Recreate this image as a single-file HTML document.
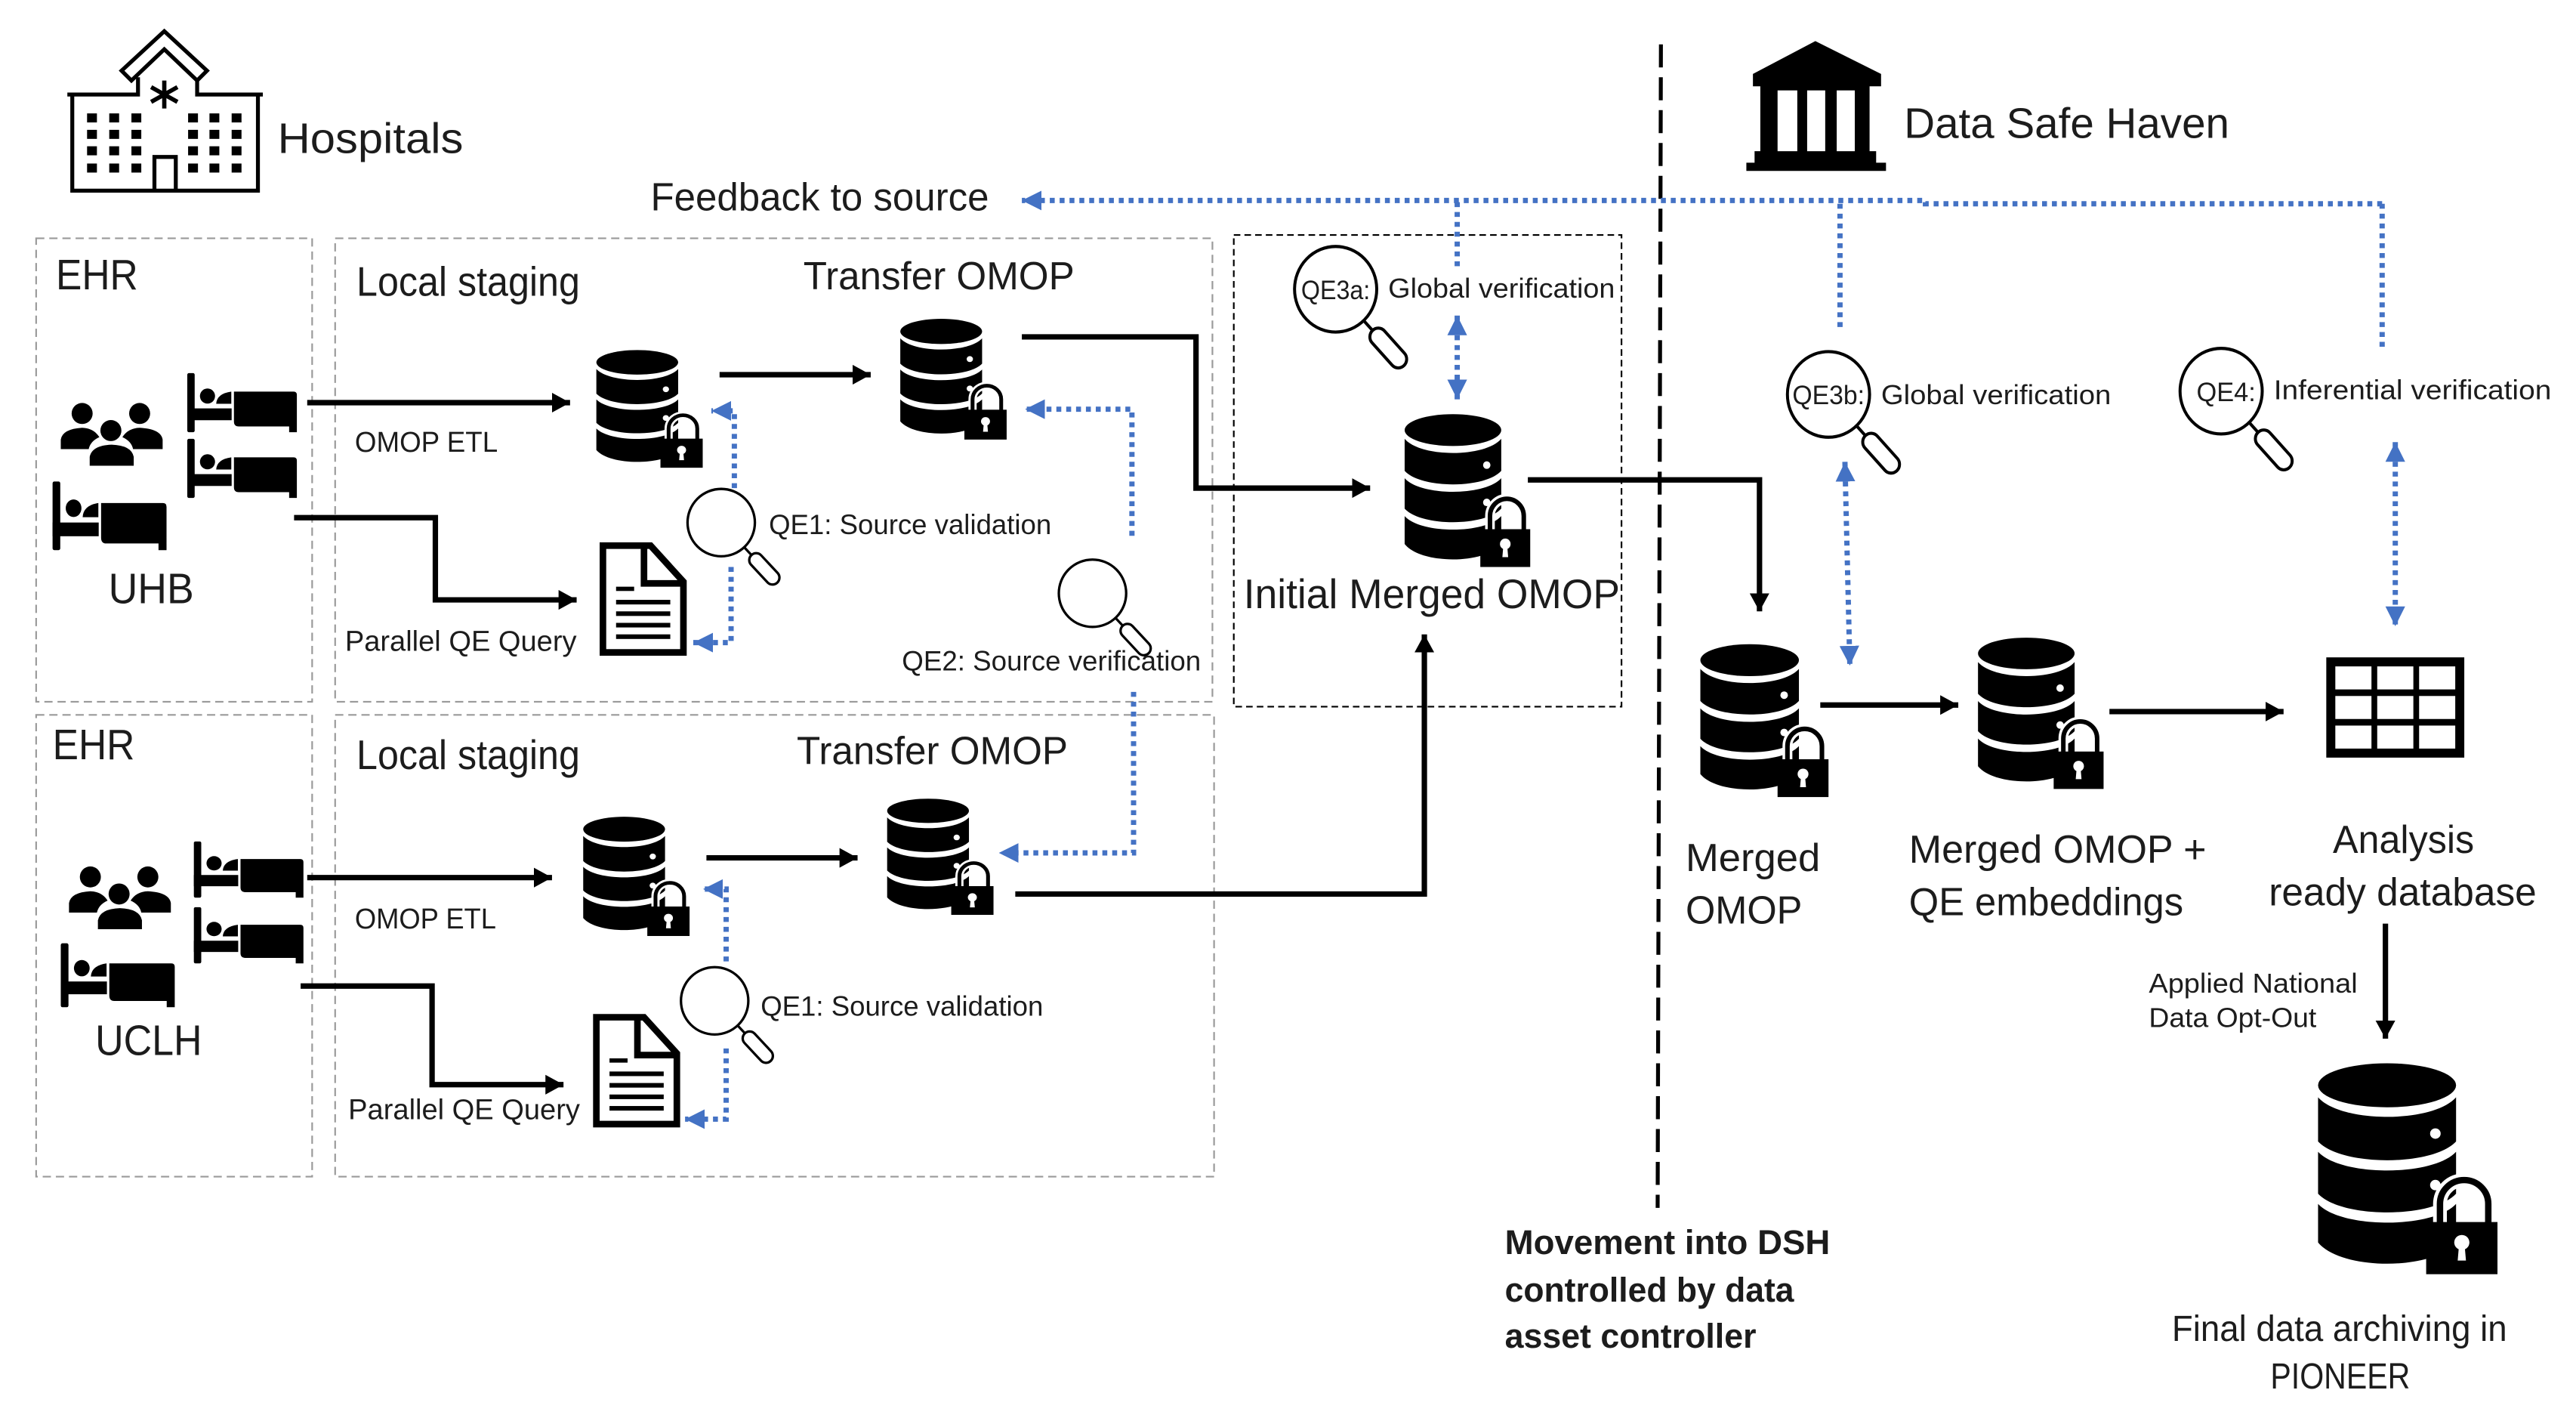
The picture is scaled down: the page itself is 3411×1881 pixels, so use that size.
<!DOCTYPE html>
<html><head><meta charset="utf-8"><style>
html,body{margin:0;padding:0;background:#fff}
svg{display:block}
text{font-family:"Liberation Sans",sans-serif;fill:#1c1c1c}
.k{fill:none;stroke:#000;stroke-width:3.3;marker-end:url(#ka)}
.b{fill:none;stroke:#4472c4;stroke-width:3.2;stroke-dasharray:3 3}
.g{fill:none;stroke:#9a9a9a;stroke-width:1;stroke-dasharray:5 3}
</style></head><body>
<svg xmlns="http://www.w3.org/2000/svg" width="3411" height="1881" viewBox="0 0 1568 864.66">
<defs>
<marker id="ka" markerUnits="userSpaceOnUse" markerWidth="13" markerHeight="13" refX="11" refY="6" orient="auto"><path d="M0,0L11,6L0,12Z" fill="#000"/></marker>
<marker id="ba" markerUnits="userSpaceOnUse" markerWidth="14" markerHeight="14" refX="12" refY="6" orient="auto-start-reverse"><path d="M0,0L12,6L0,12Z" fill="#4472c4"/></marker>
<g id="db">
<ellipse cx="30" cy="9.700" rx="30" ry="9.700"/>
<path d="M0,15C10,26.500 50,26.500 60,15V34.500C50,45.500 10,45.500 0,34.500Z"/>
<path d="M0,39C10,50 50,50 60,39V57.500C50,68.500 10,68.500 0,57.500Z"/>
<path d="M0,62C10,73 50,73 60,62V79C50,91.500 10,91.500 0,79Z"/>
<circle cx="51" cy="31" r="2.300" fill="#fff"/><circle cx="51" cy="53.700" r="2.300" fill="#fff"/>
<path d="M53,71V62a10.500,10.500 0 0 1 21,0V71" fill="none" stroke="#fff" stroke-width="6"/>
<path d="M53,71V62a10.500,10.500 0 0 1 21,0V71" fill="none" stroke="#000" stroke-width="2.800"/>
<rect x="47" y="70" width="31" height="23"/>
<circle cx="62.500" cy="79" r="3.300" fill="#fff"/><path d="M61.300,80H63.700L64.300,87H60.700Z" fill="#fff"/>
</g>
<g id="mag">
<circle cx="0" cy="0" r="20.500" fill="#fff" stroke="#000" stroke-width="1.500"/>
<g transform="rotate(47)"><path d="M20.500,0H27" stroke="#000" stroke-width="1.500"/><rect x="27" y="-4.200" width="23" height="8.400" rx="4.200" fill="#fff" stroke="#000" stroke-width="1.500"/></g>
</g>
<g id="bed">
<rect x="0" y="0" width="4.500" height="36" rx="1"/>
<rect x="0" y="21.500" width="27" height="7.200"/>
<circle cx="12.300" cy="14" r="4.600"/>
<path d="M17.600,18.700Q18,12.500 26.800,11.300V18.700Z"/>
<path d="M28.400,11.300H64.700Q66.700,11.300 66.700,13.300V36H62V32.500H31.400Q28.400,32.500 28.400,29.500Z"/>
</g>
<g id="ppl">
<circle cx="13" cy="6.600" r="6.400"/><circle cx="48" cy="6.600" r="6.400"/><circle cx="30.500" cy="17" r="6.400"/>
<path d="M0,28.300V22.500Q1,16 13,15.300Q20,15.500 23.500,21Q18,23.500 17,28.300Z"/>
<path d="M62,28.300V22.500Q61,16 48,15.300Q41,15.500 37.500,21Q43,23.500 44,28.300Z"/>
<path d="M17.600,38.400V33Q19,26 31,25.600Q43,26 44.400,33V38.400Z"/>
</g>
<g id="doc">
<path d="M2,2H31L51,24V67H2Z" fill="#fff" stroke="#000" stroke-width="4"/>
<path d="M27,2V25H50" fill="none" stroke="#000" stroke-width="4"/>
<rect x="10" y="27" width="11" height="2.600"/>
<rect x="10" y="35" width="33" height="2.800"/><rect x="10" y="42" width="33" height="2.800"/><rect x="10" y="49" width="33" height="2.800"/><rect x="10" y="56" width="33" height="2.800"/>
</g>
</defs>
<rect width="1568" height="864.66" fill="#fff"/>

<!-- dashed boxes -->
<rect class="g" x="22" y="145" width="168" height="282"/>
<rect class="g" x="204" y="145" width="534" height="282"/>
<rect class="g" x="22" y="435" width="168" height="281"/>
<rect class="g" x="204" y="435" width="535" height="281"/>
<rect x="751" y="143" width="236" height="287" fill="none" stroke="#000" stroke-width="1" stroke-dasharray="4 2.500"/>
<path d="M1011,27L1009,735" stroke="#000" stroke-width="2.400" stroke-dasharray="14 6" fill="none"/>

<!-- hospital -->
<g fill="none" stroke="#000" stroke-width="2.400">
<path d="M41,57.500H84V47M120,47V57.500H160"/>
<path d="M44,57.500V116H157V57.500"/>
<path d="M100,19L126,43L120,49L100,30L80,49L74,43Z" fill="#fff"/>
<path d="M94,116V95.500H107V116"/>
<path d="M100,49V66M92,53L108,62M108,53L92,62" stroke-width="2.600"/>
</g>
<g fill="#000">
<rect x="53" y="69" width="6" height="5.500"/><rect x="66.500" y="69" width="6" height="5.500"/><rect x="80" y="69" width="6" height="5.500"/><rect x="114.500" y="69" width="6" height="5.500"/><rect x="127.500" y="69" width="6" height="5.500"/><rect x="141" y="69" width="6" height="5.500"/>
<rect x="53" y="79" width="6" height="5.500"/><rect x="66.500" y="79" width="6" height="5.500"/><rect x="80" y="79" width="6" height="5.500"/><rect x="114.500" y="79" width="6" height="5.500"/><rect x="127.500" y="79" width="6" height="5.500"/><rect x="141" y="79" width="6" height="5.500"/>
<rect x="53" y="89" width="6" height="5.500"/><rect x="66.500" y="89" width="6" height="5.500"/><rect x="80" y="89" width="6" height="5.500"/><rect x="114.500" y="89" width="6" height="5.500"/><rect x="127.500" y="89" width="6" height="5.500"/><rect x="141" y="89" width="6" height="5.500"/>
<rect x="53" y="99.500" width="6" height="5.500"/><rect x="66.500" y="99.500" width="6" height="5.500"/><rect x="80" y="99.500" width="6" height="5.500"/><rect x="114.500" y="99.500" width="6" height="5.500"/><rect x="127.500" y="99.500" width="6" height="5.500"/><rect x="141" y="99.500" width="6" height="5.500"/>
</g>

<!-- data safe haven icon -->
<path d="M1105,25L1145,45V52.500H1138V92H1142V99H1148V104H1063V99H1068V92H1071.500V52.500H1067V45Z" fill="#000"/>
<g fill="#fff"><rect x="1082" y="55" width="12" height="37"/><rect x="1100" y="55" width="11" height="37"/><rect x="1118" y="55" width="11" height="37"/></g>

<!-- black arrows -->
<path class="k" d="M187,245H347"/>
<path class="k" d="M179,315H265V365H351"/>
<path class="k" d="M438,228H530"/>
<path class="k" d="M622,205H728V297H834"/>
<path class="k" d="M930,292H1071V372"/>
<path class="k" d="M187,534H336"/>
<path class="k" d="M183,600H263V660H343"/>
<path class="k" d="M430,522H522"/>
<path class="k" d="M618,544H867V386"/>
<path class="k" d="M1108,429H1192"/>
<path class="k" d="M1284,433H1390"/>
<path class="k" d="M1452,562V632"/>

<!-- blue dotted -->
<path class="b" d="M1450,124H1172L1172,122H622" marker-end="url(#ba)"/>
<path class="b" d="M887,123V165"/>
<path class="b" d="M887,192V243" marker-start="url(#ba)" marker-end="url(#ba)"/>
<path class="b" d="M1120,124V200"/>
<path class="b" d="M1123,281L1126,405" marker-start="url(#ba)" marker-end="url(#ba)"/>
<path class="b" d="M1450,124V213"/>
<path class="b" d="M1458,269V381" marker-start="url(#ba)" marker-end="url(#ba)"/>
<path class="b" d="M447,297V250H433" marker-end="url(#ba)"/>
<path class="b" d="M445,345V391H422" marker-end="url(#ba)"/>
<path class="b" d="M689,326V249H624" marker-end="url(#ba)"/>
<path class="b" d="M690,421V519H608" marker-end="url(#ba)"/>
<path class="b" d="M442,585V541H428" marker-end="url(#ba)"/>
<path class="b" d="M442,638V681H417" marker-end="url(#ba)"/>

<!-- databases -->
<use href="#db" transform="translate(363,213) scale(.83,.77)"/>
<use href="#db" transform="translate(548,194) scale(.83,.79)"/>
<use href="#db" transform="translate(855,252) scale(.98,1)"/>
<use href="#db" transform="translate(355,497) scale(.83,.78)"/>
<use href="#db" transform="translate(540,486) scale(.83,.76)"/>
<use href="#db" transform="translate(1035,392) scale(1,1)"/>
<use href="#db" transform="translate(1204,388) scale(.98,.99)"/>
<use href="#db" transform="translate(1411,647) scale(1.4,1.38)"/>

<!-- documents -->
<use href="#doc" transform="translate(365,330)"/>
<use href="#doc" transform="translate(361,617)"/>

<!-- magnifiers -->
<use href="#mag" transform="translate(439,318)"/>
<use href="#mag" transform="translate(665,361)"/>
<use href="#mag" transform="translate(435,609)"/>
<use href="#mag" transform="translate(813,176) scale(1.22,1.27)"/>
<use href="#mag" transform="translate(1113,240) scale(1.22,1.27)"/>
<use href="#mag" transform="translate(1352,238) scale(1.22,1.27)"/>

<!-- beds, people -->
<use href="#bed" transform="translate(114,227)"/>
<use href="#bed" transform="translate(114,267)"/>
<use href="#bed" transform="translate(32,293) scale(1.04,1.16)"/>
<use href="#bed" transform="translate(118,512) scale(1,.95)"/>
<use href="#bed" transform="translate(118,552) scale(1,.95)"/>
<use href="#bed" transform="translate(37,574) scale(1.04,1.08)"/>
<use href="#ppl" transform="translate(37,245)"/>
<use href="#ppl" transform="translate(42,527)"/>

<!-- table -->
<rect x="1416" y="400" width="84" height="61" fill="#000"/>
<g fill="#fff">
<rect x="1421.500" y="405.500" width="22" height="14"/><rect x="1447" y="405.500" width="22" height="14"/><rect x="1472.500" y="405.500" width="22" height="14"/>
<rect x="1421.500" y="423.500" width="22" height="14"/><rect x="1447" y="423.500" width="22" height="14"/><rect x="1472.500" y="423.500" width="22" height="14"/>
<rect x="1421.500" y="441.500" width="22" height="14"/><rect x="1447" y="441.500" width="22" height="14"/><rect x="1472.500" y="441.500" width="22" height="14"/>
</g>

<!-- text -->
<g>
<text x="169" y="93" font-size="26" textLength="113" lengthAdjust="spacingAndGlyphs">Hospitals</text>
<text x="1159" y="84" font-size="26" textLength="198" lengthAdjust="spacingAndGlyphs">Data Safe Haven</text>
<text x="396" y="128" font-size="24" textLength="206" lengthAdjust="spacingAndGlyphs">Feedback to source</text>
<text x="34" y="176" font-size="26" textLength="50" lengthAdjust="spacingAndGlyphs">EHR</text>
<text x="217" y="180" font-size="25" textLength="136" lengthAdjust="spacingAndGlyphs">Local staging</text>
<text x="489" y="176" font-size="24" textLength="165" lengthAdjust="spacingAndGlyphs">Transfer OMOP</text>
<text x="216" y="275" font-size="17.500" textLength="87" lengthAdjust="spacingAndGlyphs">OMOP ETL</text>
<text x="210" y="396" font-size="17.500" textLength="141" lengthAdjust="spacingAndGlyphs">Parallel QE Query</text>
<text x="66" y="367" font-size="26" textLength="52" lengthAdjust="spacingAndGlyphs">UHB</text>
<text x="468" y="325" font-size="17" textLength="172" lengthAdjust="spacingAndGlyphs">QE1: Source validation</text>
<text x="549" y="408" font-size="17" textLength="182" lengthAdjust="spacingAndGlyphs">QE2: Source verification</text>
<text x="32" y="462" font-size="26" textLength="50" lengthAdjust="spacingAndGlyphs">EHR</text>
<text x="217" y="468" font-size="25" textLength="136" lengthAdjust="spacingAndGlyphs">Local staging</text>
<text x="485" y="465" font-size="24" textLength="165" lengthAdjust="spacingAndGlyphs">Transfer OMOP</text>
<text x="216" y="565" font-size="17.500" textLength="86" lengthAdjust="spacingAndGlyphs">OMOP ETL</text>
<text x="212" y="681" font-size="17.500" textLength="141" lengthAdjust="spacingAndGlyphs">Parallel QE Query</text>
<text x="58" y="642" font-size="26" textLength="65" lengthAdjust="spacingAndGlyphs">UCLH</text>
<text x="463" y="618" font-size="17" textLength="172" lengthAdjust="spacingAndGlyphs">QE1: Source validation</text>
<text x="792" y="182" font-size="16" textLength="42" lengthAdjust="spacingAndGlyphs">QE3a:</text>
<text x="845" y="181" font-size="16.500" textLength="138" lengthAdjust="spacingAndGlyphs">Global verification</text>
<text x="1091" y="246" font-size="16" textLength="44" lengthAdjust="spacingAndGlyphs">QE3b:</text>
<text x="1145" y="246" font-size="16.500" textLength="140" lengthAdjust="spacingAndGlyphs">Global verification</text>
<text x="1337" y="244" font-size="16" textLength="36" lengthAdjust="spacingAndGlyphs">QE4:</text>
<text x="1384" y="243" font-size="16.500" textLength="169" lengthAdjust="spacingAndGlyphs">Inferential verification</text>
<text x="757" y="370" font-size="25" textLength="229" lengthAdjust="spacingAndGlyphs">Initial Merged OMOP</text>
<text x="1026" y="530" font-size="24" textLength="82" lengthAdjust="spacingAndGlyphs">Merged</text>
<text x="1026" y="562" font-size="24" textLength="71" lengthAdjust="spacingAndGlyphs">OMOP</text>
<text x="1162" y="525" font-size="24" textLength="181" lengthAdjust="spacingAndGlyphs">Merged OMOP +</text>
<text x="1162" y="557" font-size="24" textLength="167" lengthAdjust="spacingAndGlyphs">QE embeddings</text>
<text x="1420" y="519" font-size="24" textLength="86" lengthAdjust="spacingAndGlyphs">Analysis</text>
<text x="1381" y="551" font-size="24" textLength="163" lengthAdjust="spacingAndGlyphs">ready database</text>
<text x="1308" y="604" font-size="16.500" textLength="127" lengthAdjust="spacingAndGlyphs">Applied National</text>
<text x="1308" y="625" font-size="16.500" textLength="102" lengthAdjust="spacingAndGlyphs">Data Opt-Out</text>
<text x="916" y="763" font-size="21" font-weight="700" textLength="198" lengthAdjust="spacingAndGlyphs">Movement into DSH</text>
<text x="916" y="792" font-size="21" font-weight="700" textLength="176" lengthAdjust="spacingAndGlyphs">controlled by data</text>
<text x="916" y="820" font-size="21" font-weight="700" textLength="153" lengthAdjust="spacingAndGlyphs">asset controller</text>
<text x="1322" y="816" font-size="22" textLength="204" lengthAdjust="spacingAndGlyphs">Final data archiving in</text>
<text x="1382" y="845" font-size="22" textLength="85" lengthAdjust="spacingAndGlyphs">PIONEER</text>
</g>
</svg>
</body></html>
